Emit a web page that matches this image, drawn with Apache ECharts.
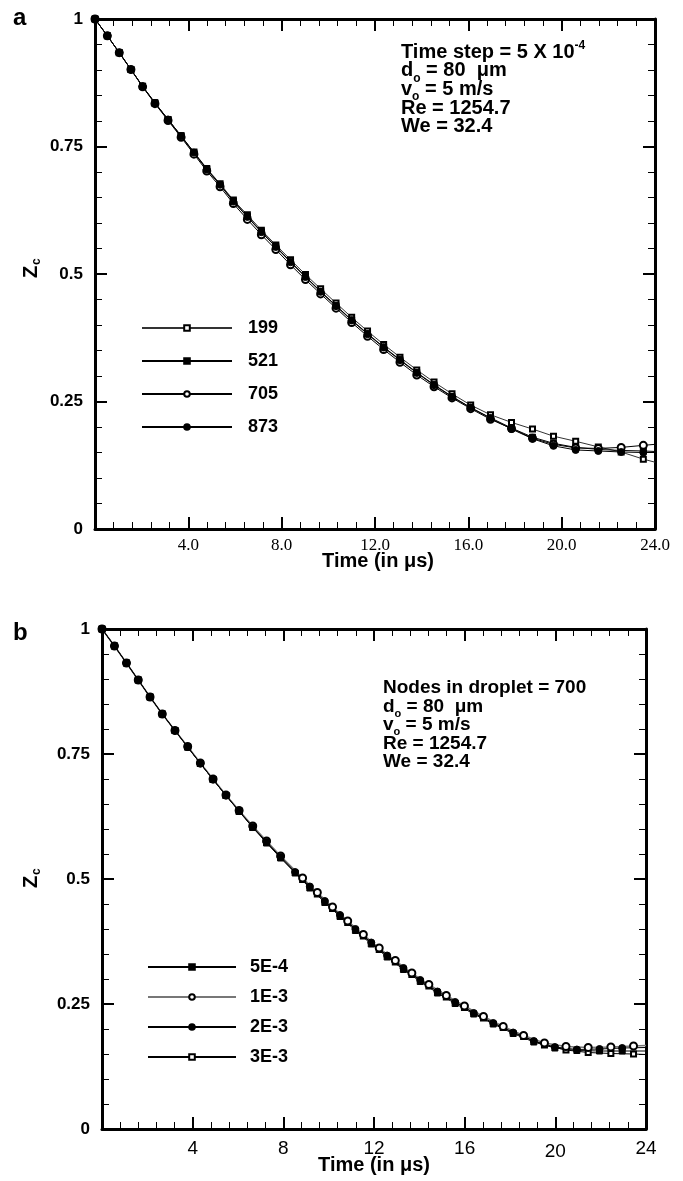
<!DOCTYPE html>
<html>
<head>
<meta charset="utf-8">
<script src="https://cdn.jsdelivr.net/npm/echarts@6/dist/echarts.min.js"></script>
<style>
  html, body { margin: 0; padding: 0; background: #fff; }
  #chart { width: 683px; height: 1181px; }
</style>
</head>
<body>
<div id="chart"></div>
<script>
// ---- panel a : nodes in droplet (time step 5E-4) ----
const timeA = [0, 0.53, 1.04, 1.54, 2.04, 2.57, 3.13, 3.69, 4.24, 4.79, 5.36, 5.93, 6.53, 7.13, 7.75, 8.38, 9.02, 9.67, 10.33, 11.0,
  11.68, 12.37, 13.07, 13.79, 14.53, 15.3, 16.1, 16.95, 17.85, 18.75, 19.65, 20.6, 21.57, 22.55, 23.5, 24]
const z199 = [1, 0.967, 0.934, 0.901, 0.868, 0.835, 0.803, 0.771, 0.739, 0.707, 0.677, 0.645, 0.616, 0.586, 0.557, 0.528, 0.499, 0.471, 0.443, 0.415,
  0.388, 0.362, 0.337, 0.312, 0.288, 0.265, 0.243, 0.224, 0.209, 0.196, 0.182, 0.172, 0.161, 0.151, 0.137, 0.131]
const z521 = [1, 0.967, 0.934, 0.901, 0.868, 0.836, 0.803, 0.771, 0.738, 0.706, 0.675, 0.643, 0.613, 0.583, 0.554, 0.524, 0.495, 0.466, 0.438, 0.410,
  0.383, 0.357, 0.332, 0.307, 0.283, 0.260, 0.238, 0.218, 0.198, 0.180, 0.168, 0.160, 0.156, 0.154, 0.153, 0.152]
const z705 = [1, 0.967, 0.934, 0.901, 0.867, 0.834, 0.801, 0.768, 0.735, 0.702, 0.671, 0.638, 0.607, 0.577, 0.548, 0.518, 0.489, 0.461, 0.433, 0.405,
  0.378, 0.352, 0.327, 0.302, 0.279, 0.257, 0.236, 0.215, 0.197, 0.178, 0.166, 0.159, 0.158, 0.160, 0.164, 0.166]
const z873 = [1, 0.967, 0.934, 0.901, 0.868, 0.835, 0.803, 0.770, 0.738, 0.705, 0.675, 0.642, 0.612, 0.582, 0.553, 0.523, 0.494, 0.465, 0.437, 0.409,
  0.382, 0.356, 0.331, 0.306, 0.282, 0.259, 0.238, 0.217, 0.196, 0.177, 0.163, 0.155, 0.153, 0.151, 0.150, 0.150]

// ---- panel b : time step (700 nodes) ----
const timeB = [0, 0.55, 1.08, 1.6, 2.12, 2.66, 3.22, 3.78, 4.34, 4.9, 5.47, 6.05, 6.65, 7.26, 7.88, 8.52, 9.17, 9.83, 10.5, 11.18,
  11.88, 12.58, 13.3, 14.04, 14.8, 15.58, 16.4, 17.26, 18.14, 19.05, 19.98, 20.95, 21.95, 22.95, 24]
const timeB2 = [0, 0.55, 1.08, 1.6, 2.12, 2.66, 3.22, 3.78, 4.34, 4.9, 5.47, 6.05, 6.65, 7.26, 7.88, 8.85, 9.5, 10.17, 10.84, 11.53,
  12.23, 12.94, 13.67, 14.42, 15.19, 15.99, 16.83, 17.7, 18.6, 19.52, 20.47, 21.45, 22.45, 23.45, 24]
const z5E4 = [1, 0.966, 0.932, 0.898, 0.864, 0.830, 0.797, 0.764, 0.731, 0.699, 0.667, 0.635, 0.603, 0.572, 0.542, 0.512, 0.482, 0.453, 0.425, 0.397,
  0.370, 0.344, 0.319, 0.295, 0.272, 0.251, 0.230, 0.210, 0.191, 0.174, 0.162, 0.157, 0.156, 0.156, 0.156]
const z2E3 = [1, 0.966, 0.932, 0.898, 0.864, 0.830, 0.797, 0.764, 0.731, 0.699, 0.667, 0.636, 0.604, 0.574, 0.544, 0.514, 0.485, 0.456, 0.428, 0.400,
  0.373, 0.347, 0.322, 0.298, 0.275, 0.254, 0.232, 0.212, 0.193, 0.176, 0.164, 0.159, 0.160, 0.162, 0.163]
const z1E3 = [1, 0.966, 0.932, 0.898, 0.864, 0.830, 0.797, 0.765, 0.732, 0.700, 0.668, 0.637, 0.606, 0.576, 0.546, 0.502, 0.473, 0.444, 0.416, 0.389,
  0.362, 0.337, 0.312, 0.289, 0.267, 0.246, 0.225, 0.205, 0.187, 0.172, 0.165, 0.163, 0.164, 0.166, 0.167]
const z3E3 = [1, 0.966, 0.932, 0.898, 0.864, 0.830, 0.797, 0.764, 0.731, 0.699, 0.667, 0.636, 0.604, 0.574, 0.544, 0.499, 0.470, 0.441, 0.413, 0.386,
  0.359, 0.334, 0.309, 0.286, 0.264, 0.243, 0.222, 0.203, 0.185, 0.168, 0.158, 0.153, 0.151, 0.150, 0.149]

// tick labels
const xLabelsA = ['', '4.0', '8.0', '12.0', '16.0', '20.0', '24.0']
const xLabelsB = ['', '4', '8', '12', '16', '20', '24']
const yLabels = ['0', '0.25', '0.5', '0.75', '1']

// annotation text, pieces: [text, 'b' | 'sub' | 'sup']
const notesA = [
  [['Time step = 5 X 10', 'b'], ['-4', 'sup']],
  [['d', 'b'], ['o', 'sub'], [' = 80  \u03bcm', 'b']],
  [['v', 'b'], ['o', 'sub'], [' = 5 m/s', 'b']],
  [['Re = 1254.7', 'b']],
  [['We = 32.4', 'b']]
]
const notesB = [
  [['Nodes in droplet = 700', 'b']],
  [['d', 'b'], ['o', 'sub'], [' = 80  \u03bcm', 'b']],
  [['v', 'b'], ['o', 'sub'], [' = 5 m/s', 'b']],
  [['Re = 1254.7', 'b']],
  [['We = 32.4', 'b']]
]

const SANS = 'Liberation Sans'
const SERIF = 'Liberation Serif'

const measureCtx = document.createElement('canvas').getContext('2d')
function textWidth(t, font) {
  measureCtx.font = font
  return measureCtx.measureText(t).width
}

// one annotation line built from text pieces (sub/superscripts placed by measured widths)
function noteLine(x, y, pieces, size) {
  const small = Math.round(size * 0.6)
  const els = []
  let cx = x
  pieces.forEach(([t, kind]) => {
    const fs = kind === 'b' ? size : small
    const font = 'bold ' + fs + 'px "' + SANS + '"'
    const dy = kind === 'sub' ? size * 0.38 : kind === 'sup' ? -size * 0.33 : 0
    els.push({
      type: 'text', x: cx, y: y + dy, silent: true,
      style: { text: t, font, fill: '#000', textAlign: 'left', textVerticalAlign: 'middle' }
    })
    cx += textWidth(t, font)
  })
  return els
}

function notes(x, y0, step, lines, size) {
  return lines.reduce((acc, pieces, i) => acc.concat(noteLine(x, y0 + i * step, pieces, size)), [])
}

function pairs(ts, zs) {
  return ts.map((t, i) => t === 24 ? { value: [t, zs[i]], symbol: 'none' } : [t, zs[i]])
}

function line(name, ts, zs, axis, symbol, size, color, width) {
  return {
    name,
    type: 'line',
    xAxisIndex: axis,
    yAxisIndex: axis,
    data: pairs(ts, zs),
    symbol,
    symbolSize: size,
    showSymbol: true,
    showAllSymbol: true,
    lineStyle: { color, width },
    itemStyle: { color: '#000', borderColor: '#000', borderWidth: 1 },
    emphasis: { disabled: true },
    animation: false
  }
}

const frame = { show: true, onZero: false, lineStyle: { color: '#000', width: 3 } }
const tick = { show: true, inside: true, length: 12, lineStyle: { color: '#000', width: 2 } }

function xAx(grid, pos, labels, font, size, margin) {
  return {
    type: 'value', gridIndex: grid, position: pos, min: 0, max: 24, interval: 4,
    axisLine: frame, axisTick: tick,
    minorTick: { show: true, splitNumber: 5, length: 7, lineStyle: { color: '#000', width: 1 } },
    splitLine: { show: false },
    axisLabel: labels ? {
      show: true, color: '#000', fontFamily: font, fontSize: size, margin,
      showMinLabel: true, showMaxLabel: true,
      // the "20" of panel b sits a little lower in the original
      rich: { low: { fontFamily: font, fontSize: size, color: '#000', padding: [3, 0, 0, 0] } },
      formatter: v => {
        const s = labels[Math.round(v / 4)]
        return (labels === xLabelsB && s === '20') ? '{low|' + s + '}' : s
      }
    } : { show: false }
  }
}

function yAx(grid, pos, labels) {
  return {
    type: 'value', gridIndex: grid, position: pos, min: 0, max: 1, interval: 0.25,
    axisLine: frame, axisTick: tick,
    minorTick: { show: true, splitNumber: 5, length: 7, lineStyle: { color: '#000', width: 1 } },
    splitLine: { show: false },
    axisLabel: labels ? {
      show: true, color: '#000', fontFamily: SANS, fontWeight: 'bold', fontSize: 17, margin: 12,
      showMinLabel: true, showMaxLabel: true,
      formatter: v => labels[Math.round(v / 0.25)]
    } : { show: false }
  }
}

function txt(text, x, y, size, extra) {
  return {
    type: 'text', x, y, silent: true,
    style: Object.assign({ text, font: 'bold ' + size + 'px "' + SANS + '"', fill: '#000', textAlign: 'left', textVerticalAlign: 'middle' }, extra || {})
  }
}

// rotated Z with subscript c
function zcLabel(x, y) {
  return {
    type: 'group', x, y, rotation: Math.PI / 2, silent: true,
    children: [
      { type: 'text', x: -8, y: 0, style: { text: 'Z', font: 'bold 20px "' + SANS + '"', fill: '#000', textAlign: 'left', textVerticalAlign: 'middle' } },
      { type: 'text', x: 5, y: 6, style: { text: 'c', font: 'bold 12px "' + SANS + '"', fill: '#000', textAlign: 'left', textVerticalAlign: 'middle' } }
    ]
  }
}

const legendText = { fontFamily: SANS, fontWeight: 'bold', fontSize: 18, color: '#000', lineHeight: 20 }

const myChart = echarts.init(document.getElementById('chart'), null, { renderer: 'canvas' })

const option = {
  backgroundColor: '#fff',
  animation: false,
  grid: [
    { left: 95, top: 19, width: 560, height: 510, containLabel: false, outerBoundsMode: 'none' },
    { left: 102, top: 629, width: 544, height: 500, containLabel: false, outerBoundsMode: 'none' }
  ],
  xAxis: [
    xAx(0, 'bottom', xLabelsA, SERIF, 17, 8),
    xAx(0, 'top', null),
    xAx(1, 'bottom', xLabelsB, SANS, 19, 10),
    xAx(1, 'top', null)
  ],
  yAxis: [
    yAx(0, 'left', yLabels),
    yAx(0, 'right', null),
    yAx(1, 'left', yLabels),
    yAx(1, 'right', null)
  ],
  legend: [
    {
      data: ['199', '521', '705', '873'], left: 141, top: 318, orient: 'vertical', padding: 0,
      itemWidth: 90, itemHeight: 7, itemGap: 13, selectedMode: false,
      textStyle: Object.assign({ padding: [0, 0, 0, 11] }, legendText)
    },
    {
      data: ['5E-4', '1E-3', '2E-3', '3E-3'], left: 147, top: 957, orient: 'vertical', padding: 0,
      itemWidth: 88, itemHeight: 7, itemGap: 10, selectedMode: false,
      textStyle: Object.assign({ padding: [0, 0, 0, 9] }, legendText)
    }
  ],
  series: [
    line('199', timeA, z199, 0, 'emptyRect', 5, '#333', 1),
    line('521', timeA, z521, 0, 'rect', 6, '#000', 1),
    line('705', timeA, z705, 0, 'emptyCircle', 7, '#000', 1),
    line('873', timeA, z873, 0, 'circle', 7, '#000', 1),

    line('3E-3', timeB2, z3E3, 2, 'emptyRect', 5, '#000', 1),
    line('1E-3', timeB2, z1E3, 2, 'emptyCircle', 7, '#777', 1.5),
    line('5E-4', timeB, z5E4, 2, 'rect', 6, '#000', 1),
    line('2E-3', timeB, z2E3, 2, 'circle', 7, '#000', 1)
  ],
  graphic: [
    txt('a', 13, 18, 24),
    txt('b', 13, 633, 24),
    zcLabel(31, 270),
    zcLabel(31, 880),
    txt('Time (in \u03bcs)', 378, 561, 20, { textAlign: 'center' }),
    txt('Time (in \u03bcs)', 374, 1165, 20, { textAlign: 'center' })
  ].concat(notes(401, 52, 18.7, notesA, 20), notes(383, 688, 18.5, notesB, 19))
}

myChart.setOption(option)
</script>
</body>
</html>
